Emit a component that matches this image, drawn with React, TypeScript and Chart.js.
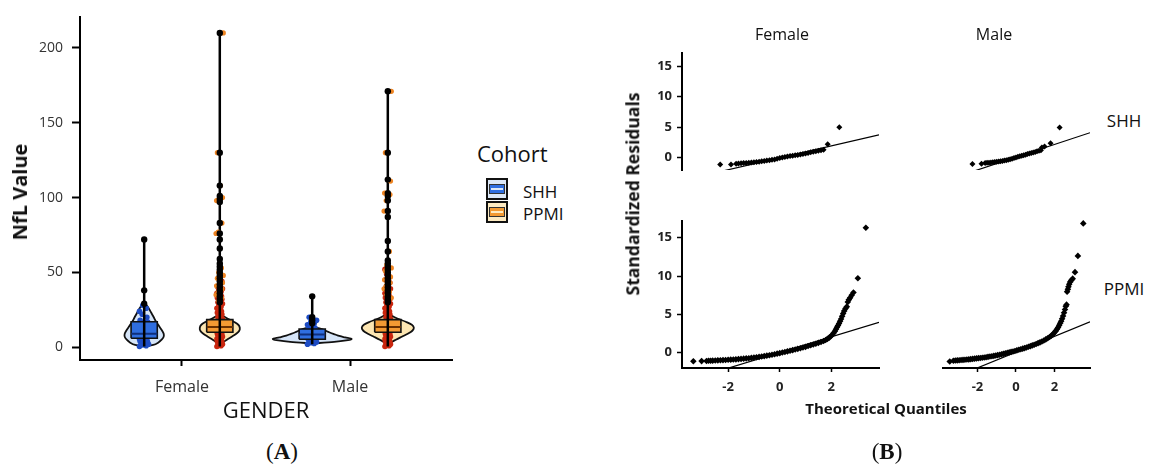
import React, { useEffect, useRef } from 'react';
import { Chart, registerables } from 'chart.js';

Chart.register(...registerables);
Chart.defaults.font.family = "'Open Sans', sans-serif";

// ---------------- Panel A data ----------------
const genders = ['Female', 'Male'];
const cohorts = ['SHH', 'PPMI'];
const nflTicks = [0, 50, 100, 150, 200];

// violin outlines: value levels and half-width (density) at each level
const femaleShhViolinY = [0.8, 1.5, 3, 5, 7, 9, 11, 14, 17, 20, 23, 26, 28, 30];
const femaleShhViolinW = [0, 0.054, 0.083, 0.104, 0.116, 0.116, 0.107, 0.089, 0.071, 0.057, 0.042, 0.027, 0.015, 0];
const femalePpmiViolinY = [0.5, 3, 5, 7, 9, 11, 13, 15, 17, 19, 21, 22.5];
const femalePpmiViolinW = [0.006, 0.018, 0.042, 0.071, 0.098, 0.116, 0.119, 0.11, 0.083, 0.048, 0.018, 0];
const maleShhViolinY = [2.5, 3.5, 4.5, 5.5, 6.5, 7.5, 8.5, 10, 11.5, 13, 14];
const maleShhViolinW = [0, 0.131, 0.202, 0.235, 0.196, 0.161, 0.137, 0.101, 0.071, 0.03, 0];
const malePpmiViolinY = [0.5, 3, 5, 7, 9, 11, 13, 15, 17, 19, 21, 23];
const malePpmiViolinW = [0.006, 0.018, 0.048, 0.083, 0.119, 0.146, 0.155, 0.143, 0.107, 0.06, 0.024, 0];

// boxes: [q1, median, q3]
const femaleShhBox = [6, 9, 17];
const femalePpmiBox = [10, 13.5, 18.4];
const maleShhBox = [5.3, 8.5, 12.2];
const malePpmiBox = [10, 13.5, 18.4];

// [min, max]
const femaleShhRange = [0.5, 72];
const femalePpmiRange = [0.5, 210];
const maleShhRange = [2, 34];
const malePpmiRange = [0.5, 171];

// individual observations (jittered strip)
const femaleShhPoints = [0.5, 1, 1.5, 2, 2.5, 3, 3.5, 4, 4.5, 5, 5.5, 6, 6.5, 7, 7.5, 8, 8.5, 9, 9.5, 10, 11, 12, 13, 14, 15, 16, 17, 18, 20, 22, 24, 26, 28];
const maleShhPoints = [2, 2.5, 3, 3.5, 4, 4.5, 5, 5.5, 6, 6.5, 7, 7.5, 8, 8.5, 9, 10, 11, 12, 13, 14, 15, 16, 17, 18, 20];
const femalePpmiPoints = [0.5, 1, 1.5, 2, 2.5, 3, 3.5, 4, 4.5, 5, 5.5, 6, 6.5, 7, 7.5, 8, 8.5, 9, 9.5, 10, 10.5, 11, 11.5, 12, 12.5, 13, 13.5, 14, 14.5, 15, 16, 17, 18, 19, 20, 21, 22, 23, 24, 25, 26, 27, 28, 29, 30, 31, 32, 33, 34, 35, 36, 37, 38, 39, 40, 42, 44];
const malePpmiPoints = [0.5, 1, 1.5, 2, 2.5, 3, 3.5, 4, 4.5, 5, 5.5, 6, 6.5, 7, 7.5, 8, 8.5, 9, 9.5, 10, 10.5, 11, 11.5, 12, 12.5, 13, 13.5, 14, 14.5, 15, 16, 17, 18, 19, 20, 21, 22, 23, 24, 25, 26, 27, 28, 29, 30, 31, 32, 33, 34, 35, 36, 37, 38, 39, 40, 41, 43, 45, 47, 49, 52];
const femalePpmiHighPoints = [210, 130, 108, 100, 98, 83, 77, 76, 53, 50, 48, 46, 44, 43, 41, 39, 37, 35, 33, 31];
const malePpmiHighPoints = [171, 130, 112, 111, 103, 102, 98, 91, 64, 55, 53, 51, 49, 47, 45, 43, 41, 39, 37, 35, 33];

// outliers
const femaleShhOutliers = [72, 38, 29];
const femalePpmiOutliers = [210, 130, 108, 101, 99, 97, 83, 76, 72, 66, 59, 56, 54, 52, 50, 48, 46, 44, 42, 40, 38, 36, 34, 32, 30];
const maleShhOutliers = [34, 20, 18, 16];
const malePpmiOutliers = [171, 130, 112, 103, 101, 98, 91, 87, 71, 64, 58, 56, 54, 52, 50, 48, 46, 44, 42, 40, 38, 36, 34, 32, 30];

// ---------------- Panel B data ----------------
const qqXTicks = [-2, 0, 2];
const residualTicks = [0, 5, 10, 15];

const femaleShhQx = [-2.31, -1.89, -1.69, -1.6, -1.5, -1.4, -1.3, -1.2, -1.1, -1.0, -0.9, -0.8, -0.7, -0.6, -0.5, -0.4, -0.3, -0.2, -0.1, 0.0, 0.1, 0.2, 0.3, 0.4, 0.5, 0.6, 0.7, 0.8, 0.9, 1.0, 1.1, 1.2, 1.3, 1.4, 1.5, 1.6, 1.7, 1.86, 2.31];
const femaleShhQy = [-1.08, -1.08, -0.96, -0.93, -0.9, -0.87, -0.84, -0.8, -0.76, -0.72, -0.68, -0.64, -0.58, -0.52, -0.46, -0.4, -0.33, -0.26, -0.16, -0.04, 0.06, 0.14, 0.22, 0.28, 0.34, 0.4, 0.47, 0.55, 0.63, 0.72, 0.8, 0.9, 0.98, 1.06, 1.14, 1.22, 1.32, 2.2, 5.0];

const maleShhQx = [-2.26, -1.79, -1.6, -1.5, -1.4, -1.3, -1.2, -1.1, -1.0, -0.9, -0.8, -0.7, -0.6, -0.5, -0.4, -0.3, -0.2, -0.1, 0.0, 0.1, 0.2, 0.3, 0.4, 0.5, 0.6, 0.7, 0.8, 0.9, 1.0, 1.1, 1.2, 1.3, 1.35, 1.49, 1.8, 2.27];
const maleShhQy = [-1.08, -1.04, -0.94, -0.91, -0.88, -0.85, -0.82, -0.79, -0.76, -0.72, -0.68, -0.63, -0.57, -0.5, -0.43, -0.35, -0.27, -0.18, -0.08, 0.02, 0.1, 0.18, 0.26, 0.34, 0.42, 0.5, 0.58, 0.66, 0.75, 0.84, 0.92, 1.0, 1.42, 1.6, 2.08, 4.48];

const femalePpmiQx = [-3.35, -3.03, -2.84, -2.76, -2.68, -2.6, -2.5, -2.4, -2.3, -2.2, -2.1, -2.0, -1.9, -1.8, -1.7, -1.6, -1.5, -1.4, -1.3, -1.2, -1.1, -1.0, -0.9, -0.8, -0.7, -0.6, -0.5, -0.4, -0.3, -0.2, -0.1, 0.0, 0.1, 0.2, 0.3, 0.4, 0.5, 0.6, 0.7, 0.8, 0.9, 1.0, 1.1, 1.2, 1.3, 1.4, 1.5, 1.6, 1.7, 1.78, 1.85, 1.92, 1.98, 2.04, 2.09, 2.14, 2.18, 2.22, 2.26, 2.3, 2.34, 2.38, 2.42, 2.46, 2.5, 2.55, 2.6, 2.64, 2.68, 2.73, 2.79, 2.86, 3.03, 3.34];
const femalePpmiQy = [-1.12, -1.1, -1.08, -1.06, -1.05, -1.04, -1.02, -1.0, -0.99, -0.97, -0.95, -0.93, -0.91, -0.89, -0.87, -0.84, -0.81, -0.78, -0.75, -0.72, -0.68, -0.64, -0.6, -0.55, -0.5, -0.45, -0.39, -0.33, -0.27, -0.2, -0.13, -0.06, 0.02, 0.09, 0.17, 0.25, 0.33, 0.41, 0.5, 0.58, 0.67, 0.76, 0.86, 0.96, 1.06, 1.17, 1.28, 1.4, 1.53, 1.66, 1.8, 1.96, 2.14, 2.34, 2.56, 2.8, 3.05, 3.3, 3.55, 3.8, 4.1, 4.4, 4.75, 5.1, 5.45, 5.75, 6.0, 6.6, 6.9, 7.15, 7.5, 7.85, 9.7, 16.3];

const malePpmiQx = [-3.44, -3.25, -3.15, -3.05, -2.95, -2.85, -2.75, -2.65, -2.55, -2.45, -2.35, -2.25, -2.15, -2.05, -1.95, -1.85, -1.75, -1.65, -1.55, -1.45, -1.35, -1.25, -1.15, -1.05, -0.95, -0.85, -0.75, -0.65, -0.55, -0.45, -0.35, -0.25, -0.15, -0.05, 0.05, 0.15, 0.25, 0.35, 0.45, 0.55, 0.65, 0.75, 0.85, 0.95, 1.05, 1.15, 1.25, 1.35, 1.45, 1.55, 1.65, 1.75, 1.84, 1.92, 2.0, 2.07, 2.13, 2.19, 2.25, 2.3, 2.35, 2.4, 2.45, 2.5, 2.55, 2.59, 2.63, 2.66, 2.7, 2.73, 2.77, 2.82, 2.88, 2.95, 3.07, 3.22, 3.5];
const malePpmiQy = [-1.2, -1.1, -1.08, -1.06, -1.04, -1.02, -1.0, -0.98, -0.96, -0.94, -0.91, -0.88, -0.85, -0.82, -0.79, -0.76, -0.73, -0.7, -0.67, -0.63, -0.59, -0.55, -0.51, -0.47, -0.42, -0.37, -0.32, -0.26, -0.2, -0.14, -0.08, -0.02, 0.04, 0.1, 0.17, 0.24, 0.31, 0.38, 0.45, 0.53, 0.61, 0.69, 0.78, 0.87, 0.96, 1.06, 1.16, 1.27, 1.39, 1.52, 1.66, 1.82, 1.98, 2.16, 2.36, 2.56, 2.78, 3.0, 3.25, 3.5, 3.75, 4.05, 4.4, 4.8, 5.2, 5.6, 5.8, 7.4, 7.7, 8.0, 8.3, 8.6, 8.8, 9.0, 9.8, 11.8, 15.8];

// reference lines [intercept, slope]
const femaleShhQline = [0.0, 0.98];
const maleShhQline = [-0.05, 0.97];
const femalePpmiQline = [0.02, 1.02];
const malePpmiQline = [-0.05, 0.97];

// ---------------- styles ----------------
const dodge = 0.225;
const boxHalf = 0.078;
const jitterPattern = [-0.028, 0.012, -0.008, 0.026, -0.018, 0.004, 0.02, -0.024, 0.016, -0.012];
const cohortStyle = [
  { violin: '#d6e5f8', box: '#2f6ee0', median: '#0f2f7c', points: '#1d4cc4', extra: '#1d4cc4', jitter: 1.0, radius: 2.8 },
  { violin: '#fde6b2', box: '#f39a33', median: '#6a3000', points: '#c9260e', extra: '#ee8422', jitter: 0.6, radius: 2.8 },
];

const groups = [
  { gender: 0, cohort: 0, vy: femaleShhViolinY, vw: femaleShhViolinW, box: femaleShhBox, range: femaleShhRange, pts: femaleShhPoints, extra: [] as number[], out: femaleShhOutliers },
  { gender: 0, cohort: 1, vy: femalePpmiViolinY, vw: femalePpmiViolinW, box: femalePpmiBox, range: femalePpmiRange, pts: femalePpmiPoints, extra: femalePpmiHighPoints, out: femalePpmiOutliers },
  { gender: 1, cohort: 0, vy: maleShhViolinY, vw: maleShhViolinW, box: maleShhBox, range: maleShhRange, pts: maleShhPoints, extra: [] as number[], out: maleShhOutliers },
  { gender: 1, cohort: 1, vy: malePpmiViolinY, vw: malePpmiViolinW, box: malePpmiBox, range: malePpmiRange, pts: malePpmiPoints, extra: malePpmiHighPoints, out: malePpmiOutliers },
];

function buildPanelA(): any {
  const datasets: any[] = [];
  const n = jitterPattern.length;
  groups.forEach((g) => {
    const st = cohortStyle[g.cohort];
    const cx = g.gender + 1 + (g.cohort === 0 ? -dodge : dodge);
    const right = g.vy.map((v, i) => ({ x: cx + g.vw[i], y: v }));
    const left = g.vy.map((v, i) => ({ x: cx - g.vw[i], y: v })).reverse().slice(1);
    datasets.push({ type: 'line', data: [...right, ...left], borderColor: '#111', borderWidth: 1.8, backgroundColor: st.violin, fill: 'shape', tension: 0.3, pointRadius: 0, order: 60 });
    datasets.push({ type: 'scatter', data: g.pts.map((v, i) => ({ x: cx + jitterPattern[i % n] * st.jitter, y: v })), backgroundColor: st.points, borderWidth: 0, pointRadius: st.radius, order: 50 });
    const [q1, med, q3] = g.box;
    datasets.push({ type: 'line', data: [{ x: cx - boxHalf, y: q1 }, { x: cx + boxHalf, y: q1 }, { x: cx + boxHalf, y: q3 }, { x: cx - boxHalf, y: q3 }, { x: cx - boxHalf, y: q1 }], borderColor: '#111', borderWidth: 1.6, backgroundColor: st.box, fill: 'shape', tension: 0, pointRadius: 0, order: 40 });
    datasets.push({ type: 'line', data: [{ x: cx - boxHalf, y: med }, { x: cx + boxHalf, y: med }], borderColor: st.median, borderWidth: 2, pointRadius: 0, fill: false, order: 35 });
    datasets.push({ type: 'line', data: [{ x: cx, y: g.range[0] }, { x: cx, y: g.range[1] }], borderColor: '#000', borderWidth: 2.5, pointRadius: 0, fill: false, order: 30 });
    if (g.extra.length) {
      datasets.push({ type: 'scatter', data: g.extra.map((v, i) => ({ x: cx + jitterPattern[(i + 3) % n] * 0.8, y: v })), backgroundColor: st.extra, borderWidth: 0, pointRadius: 2.6, order: 25 });
    }
    datasets.push({ type: 'scatter', data: g.out.map((v) => ({ x: cx, y: v })), backgroundColor: '#000', borderWidth: 0, pointRadius: 3.2, order: 20 });
  });

  return {
    type: 'scatter',
    data: { datasets },
    options: {
      animation: false,
      responsive: false,
      events: [],
      layout: { padding: { left: 0, top: 12, right: 18, bottom: 0 } },
      plugins: { legend: { display: false }, tooltip: { enabled: false } },
      scales: {
        x: {
          type: 'linear', min: 0.393, max: 2.607,
          afterBuildTicks: (s: any) => { s.ticks = genders.map((_, i) => ({ value: i + 1 })); },
          afterFit: (s: any) => { s.height = 70; },
          ticks: { color: '#333', font: { size: 16 }, padding: 11.4, callback: (v: any) => genders[Math.round(v) - 1] },
          grid: { drawOnChartArea: false, drawTicks: true, tickLength: 6, tickColor: '#000', tickWidth: 2 },
          border: { display: true, color: '#000', width: 2 },
          title: { display: true, text: 'GENDER', color: '#111', font: { size: 22 }, padding: { top: 0, bottom: 4.8 } },
        },
        y: {
          type: 'linear', min: -8.55, max: 220.4,
          afterBuildTicks: (s: any) => { s.ticks = nflTicks.map((v) => ({ value: v })); },
          afterFit: (s: any) => { s.width = 80; },
          ticks: { color: '#333', font: { size: 14 }, padding: 9 },
          grid: { drawOnChartArea: false, drawTicks: true, tickLength: 8, tickColor: '#000', tickWidth: 2 },
          border: { display: true, color: '#000', width: 2 },
        },
      },
    },
  };
}

const qqMin = -3.79;
const qqMax = 3.85;

function buildFacet(xs: number[], ys: number[], qline: number[], showX: boolean, showY: boolean, radius: number): any {
  const [a, b] = qline;
  return {
    type: 'scatter',
    data: {
      datasets: [
        { type: 'scatter', data: xs.map((x, i) => ({ x, y: ys[i] })), pointStyle: 'rectRot', pointRadius: radius, backgroundColor: '#000', borderWidth: 0, order: 1 },
        { type: 'line', data: [{ x: qqMin, y: a + b * qqMin }, { x: qqMax, y: a + b * qqMax }], borderColor: '#000', borderWidth: 1.2, pointRadius: 0, fill: false, clip: 0, order: 2 },
      ],
    },
    options: {
      animation: false,
      responsive: false,
      events: [],
      layout: { padding: 0 },
      plugins: { legend: { display: false }, tooltip: { enabled: false } },
      scales: {
        x: {
          type: 'linear', min: qqMin, max: qqMax, display: showX,
          afterBuildTicks: (s: any) => { s.ticks = qqXTicks.map((v) => ({ value: v })); },
          afterFit: (s: any) => { s.height = 30; },
          ticks: { color: '#222', font: { size: 13, weight: 'bold' }, padding: 7 },
          grid: { drawOnChartArea: false, drawTicks: true, tickLength: 4, tickColor: '#000', tickWidth: 1.5 },
          border: { display: true, color: '#000', width: 2 },
        },
        y: {
          type: 'linear', min: -2, max: 17.2, display: showY,
          afterBuildTicks: (s: any) => { s.ticks = residualTicks.map((v) => ({ value: v })); },
          afterFit: (s: any) => { s.width = 50; },
          ticks: { color: '#222', font: { size: 13, weight: 'bold' }, padding: 5 },
          grid: { drawOnChartArea: false, drawTicks: true, tickLength: 5, tickColor: '#000', tickWidth: 1.5 },
          border: { display: true, color: '#000', width: 2 },
        },
      },
    },
  };
}

const abs = (left: number, top: number): React.CSSProperties => ({ position: 'absolute', left, top });

function Label(props: { x: number; y: number; text: string; size: number; bold?: boolean; rotate?: boolean; family?: string; color?: string }) {
  const { x, y, text, size, bold, rotate, family, color } = props;
  return (
    <div style={{ position: 'absolute', left: x, top: y, transform: `translate(-50%, -50%)${rotate ? ' rotate(-90deg)' : ''}`, whiteSpace: 'nowrap', lineHeight: 1, fontSize: size, fontWeight: bold ? 700 : 400, fontFamily: family || "'Open Sans', sans-serif", color: color || '#111' }}>
      {text}
    </div>
  );
}

function LegendKey({ top, fill, light }: { top: number; fill: string; light: string }) {
  return (
    <div style={{ position: 'absolute', left: 486, top, width: 18, height: 18, background: light, border: '2px solid #111' }}>
      <div style={{ position: 'absolute', left: 1, right: 1, top: 4, height: 10, background: fill, border: '1px solid #333', boxSizing: 'border-box' }}>
        <div style={{ position: 'absolute', left: 1, right: 1, top: 3, height: 1.5, background: light }} />
      </div>
    </div>
  );
}

export default function App() {
  const aRef = useRef<HTMLCanvasElement>(null);
  const tlRef = useRef<HTMLCanvasElement>(null);
  const trRef = useRef<HTMLCanvasElement>(null);
  const blRef = useRef<HTMLCanvasElement>(null);
  const brRef = useRef<HTMLCanvasElement>(null);

  useEffect(() => {
    const charts: Chart[] = [];
    charts.push(new Chart(aRef.current!, buildPanelA()));
    charts.push(new Chart(tlRef.current!, buildFacet(femaleShhQx, femaleShhQy, femaleShhQline, false, true, 3)));
    charts.push(new Chart(trRef.current!, buildFacet(maleShhQx, maleShhQy, maleShhQline, false, false, 3)));
    charts.push(new Chart(blRef.current!, buildFacet(femalePpmiQx, femalePpmiQy, femalePpmiQline, true, true, 3.3)));
    charts.push(new Chart(brRef.current!, buildFacet(malePpmiQx, malePpmiQy, malePpmiQline, true, false, 3.3)));
    return () => charts.forEach((c) => c.destroy());
  }, []);

  return (
    <div style={{ position: 'absolute', left: 0, top: 0, width: 1151, height: 464, background: '#fff', overflow: 'hidden' }}>
      <canvas ref={aRef} width={470} height={430} style={{ ...abs(0, 0), width: 470, height: 430 }} />
      <Label x={20} y={192} text="NfL Value" size={20} bold rotate />

      <div style={{ position: 'absolute', left: 477, top: 153, transform: 'translateY(-50%)', fontSize: 22, lineHeight: 1, fontFamily: "'Open Sans', sans-serif", color: '#111' }}>Cohort</div>
      <LegendKey top={178} fill="#2f6ee0" light="#dce8f8" />
      <LegendKey top={201} fill="#f39a33" light="#fdebc2" />
      <div style={{ position: 'absolute', left: 523, top: 190.5, transform: 'translateY(-50%)', fontSize: 17, lineHeight: 1, fontFamily: "'Open Sans', sans-serif", color: '#111' }}>{cohorts[0]}</div>
      <div style={{ position: 'absolute', left: 523, top: 213, transform: 'translateY(-50%)', fontSize: 17, lineHeight: 1, fontFamily: "'Open Sans', sans-serif", color: '#111' }}>{cohorts[1]}</div>

      <canvas ref={tlRef} width={251} height={160} style={{ ...abs(632, 40), width: 251, height: 160 }} />
      <canvas ref={trRef} width={201} height={160} style={{ ...abs(893, 40), width: 201, height: 160 }} />
      <canvas ref={blRef} width={251} height={190} style={{ ...abs(632, 208), width: 251, height: 190 }} />
      <canvas ref={brRef} width={201} height={190} style={{ ...abs(893, 208), width: 201, height: 190 }} />

      <Label x={782} y={33.5} text={genders[0]} size={16} />
      <Label x={994} y={33.5} text={genders[1]} size={16} />
      <Label x={1124} y={120} text={cohorts[0]} size={17} />
      <Label x={1124} y={288} text={cohorts[1]} size={17} />
      <Label x={633} y={194} text="Standardized Residuals" size={17.5} bold rotate />
      <Label x={886} y={408} text="Theoretical Quantiles" size={15} bold />

      <div style={{ position: 'absolute', left: 282, top: 451, transform: 'translate(-50%, -50%)', fontSize: 23, lineHeight: 1, fontFamily: "'Liberation Serif', serif", color: '#111', whiteSpace: 'nowrap' }}>(<b>A</b>)</div>
      <div style={{ position: 'absolute', left: 887, top: 451, transform: 'translate(-50%, -50%)', fontSize: 23, lineHeight: 1, fontFamily: "'Liberation Serif', serif", color: '#111', whiteSpace: 'nowrap' }}>(<b>B</b>)</div>
    </div>
  );
}
